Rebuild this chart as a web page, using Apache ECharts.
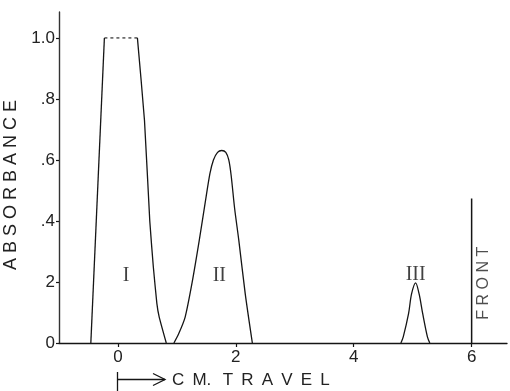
<!DOCTYPE html>
<html><head><meta charset="utf-8">
<script src="https://cdn.jsdelivr.net/npm/echarts@6/dist/echarts.min.js"></script>
<style>html,body{margin:0;padding:0;background:#fff}#c{width:510px;height:391px}</style>
</head><body><div id="c"></div>
<script>
const xTicks = [0, 2, 4, 6];
const yTicks = [0, 0.2, 0.4, 0.6, 0.8, 1.0];
const yTickLabels = ['0', '2', '.4', '.6', '.8', '1.0'];
const peak1Rise = [[-0.46, 0], [-0.23, 1.0]];
const peak1Top = [[-0.23, 1.0], [0.33, 1.0]];
const peak1Fall = [[0.33, 1.0], [0.45, 0.73], [0.54, 0.40], [0.60, 0.25], [0.66, 0.13], [0.70, 0.085], [0.82, 0]];
const peak2 = [[0.95, 0], [1.03, 0.03], [1.14, 0.085], [1.26, 0.2], [1.38, 0.337], [1.48, 0.46], [1.56, 0.555], [1.62, 0.60], [1.69, 0.625], [1.76, 0.631], [1.83, 0.625], [1.88, 0.60], [1.92, 0.55], [1.98, 0.44], [2.05, 0.337], [2.16, 0.16], [2.28, 0]];
const peak3 = [[4.80, 0], [4.84, 0.02], [4.93, 0.096], [4.98, 0.16], [5.05, 0.197], [5.11, 0.16], [5.17, 0.096], [5.25, 0.02], [5.29, 0]];
const front = [[6, 0], [6, 0.474]];
const peakNames = ['I', 'II', 'III'];
const peakLabelPos = [[0.14, 0.222], [1.72, 0.222], [5.05, 0.225]];
const frontName = 'F R O N T';
const frontPos = [6.21, 0.196];
const yName = 'A B S O R B A N C E';
const xName = 'C\u2009 M.\u2009 \u2009T\u2009 R\u2009 A\u2009 V\u2009 E\u2009 L';

const INK = '#151515';
const FONT = '"Liberation Sans", "DejaVu Sans", sans-serif';
const lineSeries = (data, opts) => Object.assign({
  type: 'line', data, showSymbol: false, symbol: 'none', silent: true,
  lineStyle: { color: INK, width: 1.3 }
}, opts || {});

const chart = echarts.init(document.getElementById('c'), null, { renderer: 'canvas' });
chart.setOption({
  animation: false,
  backgroundColor: '#fff',
  grid: { left: 59, right: 3, top: 12, bottom: 48, containLabel: false, outerBoundsMode: 'none' },
  xAxis: {
    type: 'value', min: -1, max: 6.6,
    axisLine: { show: true, onZero: false, lineStyle: { color: INK, width: 1.3 } },
    axisTick: { show: true, length: 4, customValues: xTicks, lineStyle: { color: INK, width: 1.2 } },
    axisLabel: { customValues: xTicks, color: '#222', fontFamily: FONT, fontSize: 17, margin: 6 },
    splitLine: { show: false }
  },
  yAxis: {
    type: 'value', min: 0, max: 1.085,
    name: yName, nameLocation: 'middle', nameGap: 39, nameRotate: 90,
    nameTextStyle: { color: '#222', fontFamily: FONT, fontSize: 18, padding: [0, 15, 0, 0] },
    axisLine: { show: true, onZero: false, lineStyle: { color: '#333', width: 1.4 } },
    axisTick: { show: true, length: 3, customValues: yTicks, lineStyle: { color: INK, width: 1.2 } },
    axisLabel: {
      customValues: yTicks, color: '#222', fontFamily: FONT, fontSize: 17, margin: 4,
      formatter: v => { const i = yTicks.findIndex(t => Math.abs(t - v) < 1e-6); return i >= 0 ? yTickLabels[i] : ''; }
    },
    splitLine: { show: false }
  },
  series: [
    lineSeries(peak1Rise),
    lineSeries(peak1Top, { lineStyle: { color: INK, width: 1.1, type: [3, 3] } }),
    lineSeries(peak1Fall, { smooth: 0.15 }),
    lineSeries(peak2, { smooth: 0.25 }),
    lineSeries(peak3, { smooth: 0.3 }),
    lineSeries(front, { lineStyle: { color: INK, width: 1.5 } }),
    {
      type: 'scatter', symbolSize: 0, silent: true,
      data: peakNames.map((n, i) => ({ name: n, value: peakLabelPos[i] })),
      label: { show: true, position: 'inside', formatter: p => p.name, color: '#111',
        fontFamily: '"Liberation Serif", "DejaVu Serif", serif', fontSize: 20 }
    },
    {
      type: 'scatter', symbolSize: 0, silent: true,
      data: [{ name: frontName, value: frontPos }],
      label: { show: true, position: 'inside', rotate: 90, formatter: p => p.name, color: '#222',
        fontFamily: FONT, fontSize: 16 }
    }
  ],
  graphic: [
    { type: 'line', shape: { x1: 117.5, y1: 372, x2: 117.5, y2: 391 }, style: { stroke: INK, lineWidth: 1.3 } },
    { type: 'line', shape: { x1: 117.5, y1: 379.5, x2: 165, y2: 379.5 }, style: { stroke: INK, lineWidth: 1.3 } },
    { type: 'polyline', shape: { points: [[153, 373.5], [165, 379.5], [153, 385.5]] }, style: { stroke: INK, lineWidth: 1.3, fill: null } },
    { type: 'text', left: 172, top: 372, style: { text: xName, fill: '#222', font: '17px ' + FONT } }
  ]
});
</script>
</body></html>
